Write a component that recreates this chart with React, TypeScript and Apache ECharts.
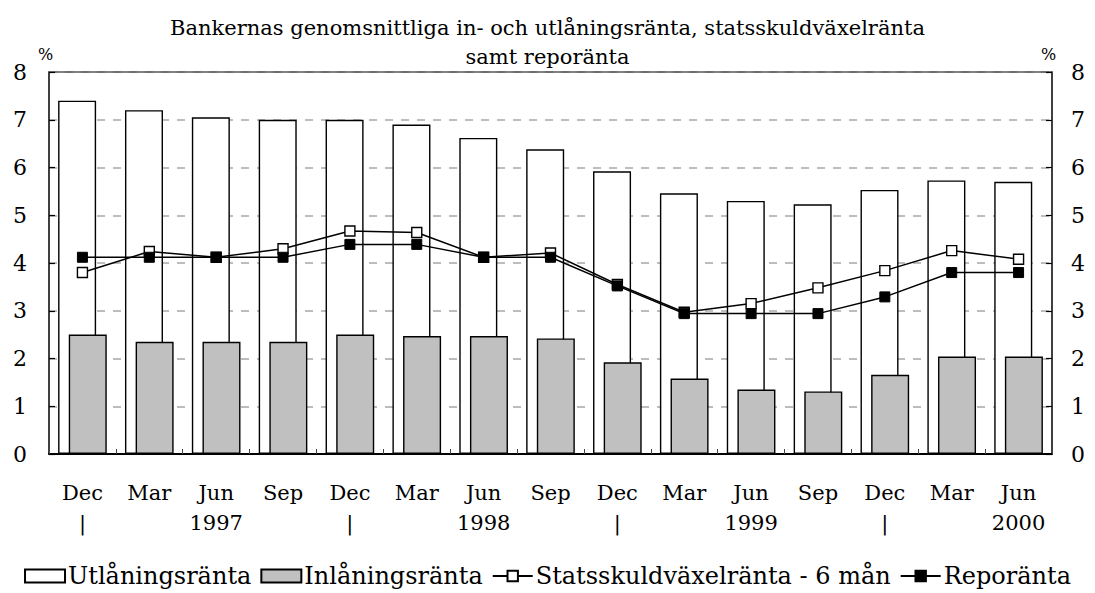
import React, { useEffect, useRef } from "react";
import * as echarts from "echarts";

const months = ["Dec", "Mar", "Jun", "Sep", "Dec", "Mar", "Jun", "Sep", "Dec", "Mar", "Jun", "Sep", "Dec", "Mar", "Jun"];
const yearRow = ["|", "", "1997", "", "|", "", "1998", "", "|", "", "1999", "", "|", "", "2000"];
const lending = [7.4, 7.2, 7.05, 7.0, 7.0, 6.9, 6.62, 6.38, 5.92, 5.46, 5.3, 5.23, 5.53, 5.73, 5.7];
const deposit = [2.5, 2.35, 2.35, 2.35, 2.5, 2.47, 2.47, 2.42, 1.92, 1.58, 1.35, 1.31, 1.66, 2.04, 2.04];
const tbill = [3.8, 4.24, 4.12, 4.3, 4.67, 4.64, 4.12, 4.21, 3.55, 2.97, 3.15, 3.48, 3.84, 4.26, 4.08];
const repo = [4.12, 4.12, 4.12, 4.12, 4.39, 4.39, 4.12, 4.12, 3.52, 2.94, 2.94, 2.94, 3.29, 3.8, 3.8];
const yTicks = [0, 1, 2, 3, 4, 5, 6, 7, 8];

const FONT = "'DejaVu Serif', serif";

export default function App() {
  const ref = useRef<HTMLDivElement>(null);
  useEffect(() => {
    if (!ref.current) return;
    const chart = echarts.init(ref.current, null, { renderer: "svg" });
    const categories = months.map((m, i) => m + "\n" + yearRow[i]);
    const yAxisBase = {
      type: "value",
      min: yTicks[0],
      max: yTicks[yTicks.length - 1],
      interval: 1,
      axisLine: { show: true, lineStyle: { color: "#000", width: 1.5 } },
      axisTick: { show: true, inside: true, length: 6, lineStyle: { color: "#000", width: 1.2 } },
      axisLabel: { fontFamily: FONT, fontSize: 22, color: "#000" },
    };
    chart.setOption({
      animation: false,
      backgroundColor: "#fff",
      title: {
        text: "Bankernas genomsnittliga in- och utlåningsränta, statsskuldväxelränta\nsamt reporänta",
        left: "center",
        top: 8,
        textStyle: { fontFamily: FONT, fontSize: 21, fontWeight: "normal", lineHeight: 29, color: "#000" },
      },
      graphic: [
        { type: "text", left: 38, top: 46, style: { text: "%", fontFamily: FONT, fontSize: 16, fill: "#000" } },
        { type: "text", left: 1041, top: 46, style: { text: "%", fontFamily: FONT, fontSize: 16, fill: "#000" } },
      ],
      grid: { left: 49, right: 43, top: 72, bottom: 139, containLabel: false },
      legend: {
        bottom: 0,
        left: "center",
        itemGap: 9,
        itemWidth: 40,
        itemHeight: 13,
        textStyle: { fontFamily: FONT, fontSize: 24, color: "#000", padding: [0, 0, 0, -2] },
        data: [
          { name: "Utlåningsränta", icon: "rect" },
          { name: "Inlåningsränta", icon: "rect" },
          { name: "Statsskuldväxelränta - 6 mån" },
          { name: "Reporänta" },
        ],
      },
      xAxis: [
        {
          type: "category",
          data: categories,
          boundaryGap: true,
          axisLine: { show: true, lineStyle: { color: "#000", width: 2 } },
          axisTick: { show: true, inside: true, length: 5, interval: 0, lineStyle: { color: "#444", width: 1 } },
          axisLabel: {
            interval: 0,
            margin: 24,
            fontFamily: FONT,
            fontSize: 21,
            lineHeight: 30,
            color: "#000",
          },
        },
        {
          type: "category",
          data: categories,
          position: "top",
          axisLine: { show: true, onZero: false, lineStyle: { color: "#555", width: 1.5 } },
          axisTick: { show: false },
          axisLabel: { show: false },
        },
      ],
      yAxis: [
        {
          ...yAxisBase,
          position: "left",
          splitLine: { show: true, lineStyle: { color: "#a8a8a8", type: [8, 8], width: 1.5 } },
          axisLabel: { ...yAxisBase.axisLabel, margin: 22 },
        },
        {
          ...yAxisBase,
          position: "right",
          splitLine: { show: false },
          axisLabel: { ...yAxisBase.axisLabel, margin: 19 },
        },
      ],
      series: [
        {
          name: "Utlåningsränta",
          type: "bar",
          data: lending,
          barWidth: 38,
          barGap: "-72%",
          itemStyle: { color: "#ffffff", borderColor: "#000", borderWidth: 1.4 },
          z: 2,
        },
        {
          name: "Inlåningsränta",
          type: "bar",
          data: deposit,
          barWidth: 38,
          barGap: "-72%",
          itemStyle: { color: "#c0c0c0", borderColor: "#000", borderWidth: 1.4 },
          z: 3,
        },
        {
          name: "Statsskuldväxelränta - 6 mån",
          type: "line",
          data: tbill,
          symbol: "rect",
          symbolSize: 10,
          lineStyle: { color: "#000", width: 1.5 },
          itemStyle: { color: "#fff", borderColor: "#000", borderWidth: 1.4 },
          z: 4,
        },
        {
          name: "Reporänta",
          type: "line",
          data: repo,
          symbol: "rect",
          symbolSize: 10,
          lineStyle: { color: "#000", width: 1.5 },
          itemStyle: { color: "#000", borderColor: "#000", borderWidth: 1 },
          z: 5,
        },
      ],
    });
    return () => chart.dispose();
  }, []);
  return <div ref={ref} style={{ position: "absolute", left: 0, top: 0, width: 1095, height: 593 }} />;
}
